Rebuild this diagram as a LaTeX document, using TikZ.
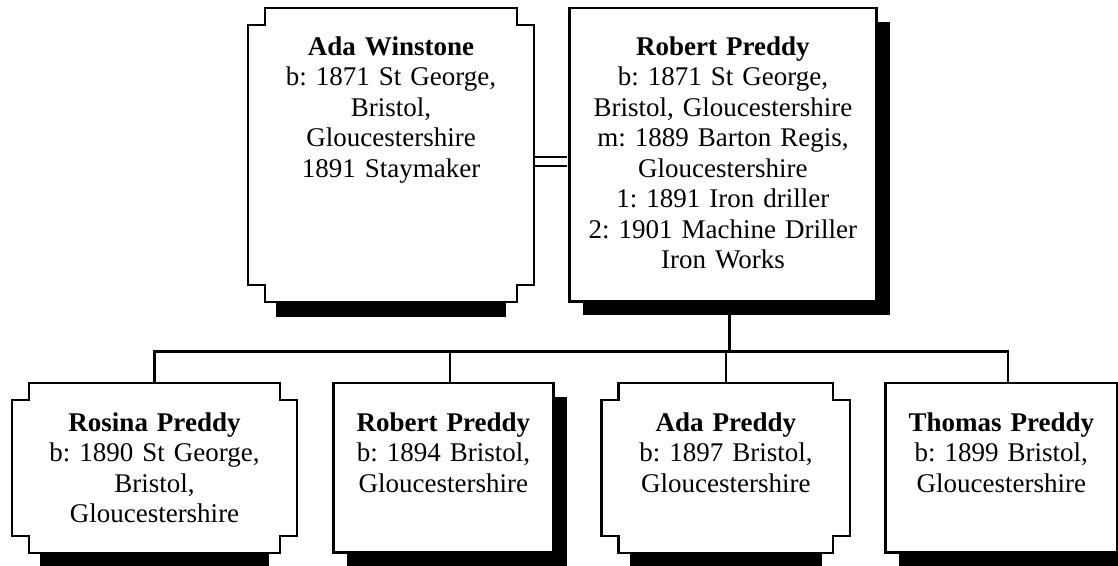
\documentclass[tikz,border=0pt]{standalone}
\usepackage{fontspec}
\setmainfont{Liberation Serif}
\usetikzlibrary{positioning,shadows}
\frenchspacing

\begin{document}
\begin{tikzpicture}[x=1pt,y=1pt,
		person/.style={text width=#1,align=center,inner sep=0pt,font=\fontsize{27}{30.5}\selectfont},
		parentrow/.style={text height=47pt,text depth=246.5pt},
		childrow/.style={text height=48pt,text depth=121.5pt},
		boxed/.style={draw,fill=white,line width=2.5pt,drop shadow={shadow xshift=13.5pt,shadow yshift=-13.5pt,fill=black,opacity=1}},
		border/.style={line width=2.5pt},
		link/.style={line width=2.2pt},
		marriage/.style={double,double distance=7pt,line width=2pt,shorten <=1.25pt,shorten >=1.25pt}]
			\useasboundingbox (0,0) rectangle (1118,565);
			\node [person=286pt,parentrow,anchor=north] (ada) at (391,557) {\textbf{Ada Winstone}\\b: 1871 St George,\\Bristol,\\Gloucestershire\\1891 Staymaker};
			\node [person=307pt,parentrow,boxed,right=34pt of ada] (robert) {\textbf{Robert Preddy}\\b: 1871 St George,\\Bristol, Gloucestershire\\m: 1889 Barton Regis,\\Gloucestershire\\1: 1891 Iron driller\\2: 1901 Machine Driller\\Iron Works};
			\node [person=285pt,childrow,anchor=north] (rosina) at (154.5,182) {\textbf{Rosina Preddy}\\b: 1890 St George,\\Bristol,\\Gloucestershire};
			\node [person=220pt,childrow,boxed,right=35pt of rosina] (robertp) {\textbf{Robert Preddy}\\b: 1894 Bristol,\\Gloucestershire};
			\node [person=248pt,childrow,right=47pt of robertp] (adap) {\textbf{Ada Preddy}\\b: 1897 Bristol,\\Gloucestershire};
			\node [person=232pt,childrow,boxed,right=34pt of adap] (thomas) {\textbf{Thomas Preddy}\\b: 1899 Bristol,\\Gloucestershire};
			\foreach \n in {ada,rosina,adap} {
				\fill ([xshift=28.5pt]\n.south west) rectangle ([xshift=-28.5pt,yshift=-15pt]\n.south east);
				\draw [border] ([yshift=17pt]\n.south west) -| ([xshift=17pt]\n.south west) -- ([xshift=-17pt]\n.south east)
					|- ([yshift=17pt]\n.south east) -- ([yshift=-17pt]\n.north east) -| ([xshift=-17pt]\n.north east)
					-- ([xshift=17pt]\n.north west) |- ([yshift=-17pt]\n.north west) -- cycle;
			}
			\draw [marriage] ([yshift=-6.75pt]ada.east) -- ([yshift=-6.75pt]robert.west);
			\draw [link] ([xshift=6.5pt]robert.south) -- ++(0,-48.5) coordinate (bus);
			\foreach \c/\dx in {rosina/0,robertp/6.5,adap/0,thomas/6.5}
				\draw [link] ([xshift=\dx pt]\c.north) |- (bus);
		\end{tikzpicture}
\end{document}
